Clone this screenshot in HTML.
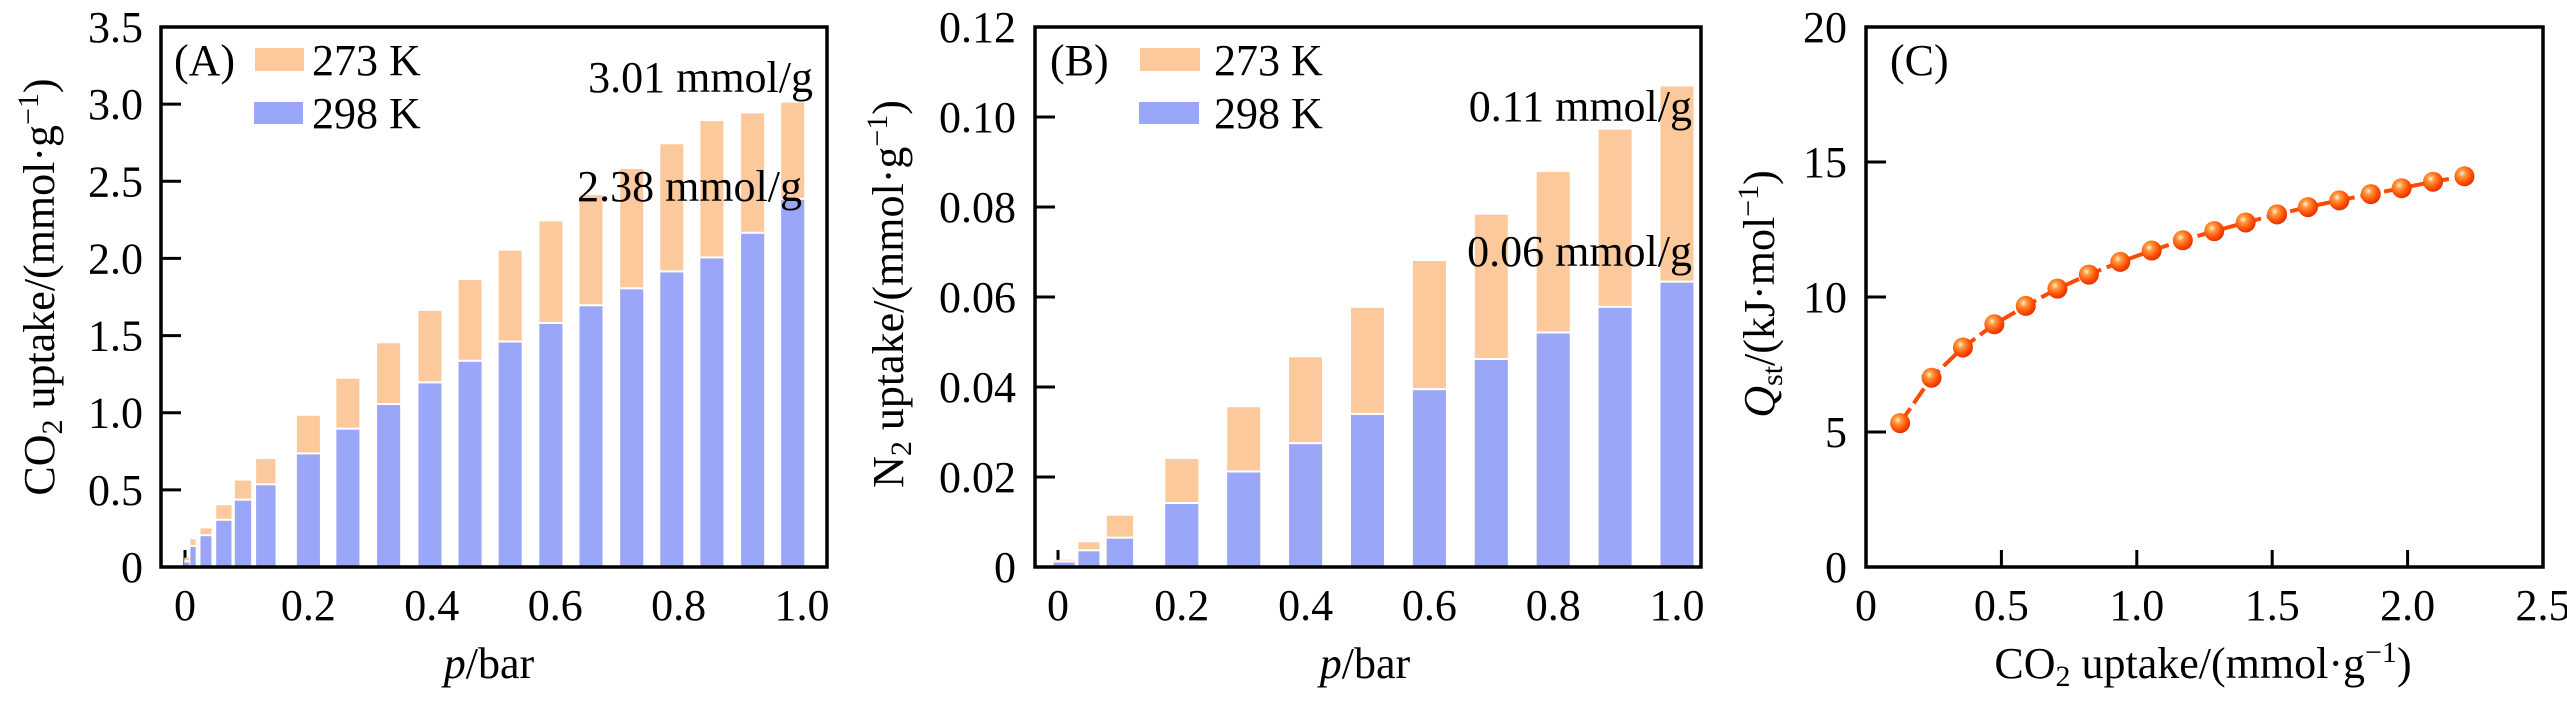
<!DOCTYPE html>
<html><head><meta charset="utf-8"><style>
html,body{margin:0;padding:0;background:#fff;}
svg{display:block;font-family:"Liberation Serif",serif;}
</style></head><body>
<svg id="chart" width="2567" height="709" viewBox="0 0 2567 709" xmlns="http://www.w3.org/2000/svg"></svg>
<script>
// Panel A data (CO2)
const pA = [0.003, 0.013, 0.034, 0.063, 0.094, 0.131, 0.2, 0.264, 0.33, 0.397, 0.462, 0.527, 0.593, 0.658, 0.724, 0.789, 0.854, 0.92, 0.985];
const co2_273 = [0.06, 0.18, 0.25, 0.40, 0.56, 0.70, 0.98, 1.22, 1.45, 1.66, 1.86, 2.05, 2.24, 2.41, 2.58, 2.74, 2.89, 2.94, 3.01];
const co2_298 = [0.03, 0.13, 0.20, 0.30, 0.43, 0.53, 0.73, 0.89, 1.05, 1.19, 1.33, 1.455, 1.575, 1.69, 1.80, 1.91, 2.00, 2.16, 2.38];
const ticksA_y = ["0","0.5","1.0","1.5","2.0","2.5","3.0","3.5"];
const ticksA_x = ["0","0.2","0.4","0.6","0.8","1.0"];
// Panel B data (N2)
const pB = [0.01, 0.05, 0.1, 0.2, 0.3, 0.4, 0.5, 0.6, 0.7, 0.8, 0.9, 1.0];
const n2_273 = [0.0016, 0.0055, 0.0114, 0.024, 0.0355, 0.0466, 0.0576, 0.068, 0.0783, 0.0878, 0.0972, 0.1068];
const n2_298 = [0.001, 0.0035, 0.0063, 0.014, 0.021, 0.0273, 0.0338, 0.0393, 0.046, 0.0519, 0.0576, 0.0632];
const ticksB_y = ["0","0.02","0.04","0.06","0.08","0.10","0.12"];
const ticksB_x = ["0","0.2","0.4","0.6","0.8","1.0"];
// Panel C data (Qst)
const uptakeC = [0.126, 0.242, 0.358, 0.474, 0.59, 0.707, 0.823, 0.939, 1.055, 1.17, 1.286, 1.402, 1.518, 1.632, 1.748, 1.864, 1.978, 2.094, 2.21];
const qst = [5.33, 7.01, 8.13, 8.99, 9.67, 10.31, 10.83, 11.30, 11.72, 12.10, 12.44, 12.76, 13.06, 13.33, 13.58, 13.81, 14.03, 14.27, 14.47];
const ticksC_y = ["0","5","10","15","20"];
const ticksC_x = ["0","0.5","1.0","1.5","2.0","2.5"];

const NS = "http://www.w3.org/2000/svg";
const svg = document.getElementById("chart");
const defs = document.createElementNS(NS, "defs");
defs.innerHTML = '<radialGradient id="ball" cx="0.38" cy="0.35" r="0.7"><stop offset="0" stop-color="#fff3d0"/><stop offset="0.25" stop-color="#ff9a40"/><stop offset="0.7" stop-color="#ff4a00"/><stop offset="1" stop-color="#d83000"/></radialGradient>';
svg.appendChild(defs);
function mk(tag, attrs, parent) {
  const e = document.createElementNS(NS, tag);
  for (const k in attrs) e.setAttribute(k, attrs[k]);
  (parent || svg).appendChild(e);
  return e;
}
const ORANGE = "#fbc99b", BLUE = "#9aa7f8";
const TOP = 27, BOT = 567;

function frame(name, L, R, ymax, yt, xmax, xt, xZeroPx, xOnePx, xTickVal, labelRight, inwardX) {
  const g = mk("g", {});
  
  
  const ys = v => BOT - v / ymax * (BOT - TOP);
  const xs = v => xZeroPx + v / xmax * (xOnePx - xZeroPx);
  yt.forEach((t, i) => {
    const v = ymax * i / (yt.length - 1);
    const y = ys(v);
    if (i > 0 && i < yt.length - 1) mk("line", {x1: L, x2: L + 20, y1: y, y2: y, stroke: "#000", "stroke-width": 3}, g);
    const tx = mk("text", {x: labelRight, y: y + 15, "text-anchor": "end", "font-size": 44}, g);
    tx.textContent = t;
    
    
  });
  xt.forEach((t, i) => {
    const v = xTickVal * i;
    const x = xs(v);
    if (inwardX(i)) mk("line", {x1: x, x2: x, y1: BOT, y2: BOT - 17, stroke: "#000", "stroke-width": 3}, g);
    const tx = mk("text", {x: x, y: 620, "text-anchor": "middle", "font-size": 44}, g);
    tx.textContent = t;
    
    
  });
  return {ys, xs, g};
}
function box(name, L, R) {
  const r = mk("rect", {x: L, y: TOP, width: R - L, height: BOT - TOP, fill: "none", stroke: "#000", "stroke-width": 3.5});
  
  
}
function bars(name, ps, hi, lo, xs, ys, maxW) {
  const g = mk("g", {});
  
  
  ps.forEach((p, i) => {
    const cx = xs(p);
    let gap = 1e9;
    if (i > 0) gap = Math.min(gap, cx - xs(ps[i - 1]));
    if (i < ps.length - 1) gap = Math.min(gap, xs(ps[i + 1]) - cx);
    const w = Math.min(maxW, gap * 0.85);
    const o = mk("rect", {x: cx - w / 2, y: ys(hi[i]), width: w, height: BOT - ys(hi[i]), fill: ORANGE}, g);
    
    
    const b = mk("rect", {x: cx - w / 2, y: ys(lo[i]), width: w, height: BOT - ys(lo[i]), fill: BLUE}, g);
    
    
    mk("line", {x1: cx - w / 2, x2: cx + w / 2, y1: ys(lo[i]) - 1, y2: ys(lo[i]) - 1, stroke: "#fff", "stroke-width": 2}, g);
  });
}
function text(name, x, y, s, size, anchor, extra) {
  const t = mk("text", Object.assign({x: x, y: y, "font-size": size, "text-anchor": anchor || "start"}, extra || {}));
  t.innerHTML = s;
  
  
  return t;
}
function legend(name, tx, sx, sw) {
  const a = mk("rect", {x: sx, y: 48, width: sw, height: 23, fill: ORANGE});
  
  
  const b = mk("rect", {x: sx - 1, y: 102, width: sw, height: 22, fill: BLUE});
  
  
  text(name + '-legend-label-273k', tx, 75, "273 K", 44);
  text(name + '-legend-label-298k', tx, 128, "298 K", 44);
}

// ---- Panel A ----
const A = frame("panel-a", 161, 827, 3.5, ticksA_y, 1.0, ticksA_x, 185, 802, 0.2, 143, i => true);
bars("panel-a", pA, co2_273, co2_298, A.xs, A.ys, 23);
box("panel-a", 161, 827);
text("panel-a-label", 174, 75, "(A)", 44);
legend("panel-a", 312, 255, 49);
text("panel-a-annotation-273k", 813, 92, "3.01 mmol/g", 44, "end");
text("panel-a-annotation-298k", 802, 201, "2.38 mmol/g", 44, "end");
text("panel-a-y-axis-title", 0, 0, 'CO<tspan font-size="30" dy="8">2</tspan><tspan dy="-8"> uptake/(mmol·g</tspan><tspan font-size="30" dy="-16">−1</tspan><tspan dy="16">)</tspan>', 44, "middle", {transform: "translate(54,287) rotate(-90)"});
text("panel-a-x-axis-title", 489, 678, '<tspan font-style="italic">p</tspan>/bar', 44, "middle");

// ---- Panel B ----
const B = frame("panel-b", 1035, 1701, 0.12, ticksB_y, 1.0, ticksB_x, 1058, 1677, 0.2, 1016, i => true);
bars("panel-b", pB, n2_273, n2_298, B.xs, B.ys, 33);
box("panel-b", 1035, 1701);
text("panel-b-label", 1050, 75, "(B)", 44);
legend("panel-b", 1214, 1140, 60);
text("panel-b-annotation-273k", 1692, 121, "0.11 mmol/g", 44, "end");
text("panel-b-annotation-298k", 1692, 266, "0.06 mmol/g", 44, "end");
text("panel-b-y-axis-title", 0, 0, 'N<tspan font-size="30" dy="8">2</tspan><tspan dy="-8"> uptake/(mmol·g</tspan><tspan font-size="30" dy="-16">−1</tspan><tspan dy="16">)</tspan>', 44, "middle", {transform: "translate(903,294) rotate(-90)"});
text("panel-b-x-axis-title", 1365, 678, '<tspan font-style="italic">p</tspan>/bar', 44, "middle");

// ---- Panel C ----
const C = frame("panel-c", 1866, 2543, 20, ticksC_y, 2.5, ticksC_x, 1866, 2543, 0.5, 1847, i => i > 0 && i < 5);
box("panel-c", 1866, 2543);
const path = uptakeC.map((u, i) => (i ? "L" : "M") + C.xs(u).toFixed(1) + "," + C.ys(qst[i]).toFixed(1)).join(" ");
const ln = mk("path", {d: path, fill: "none", stroke: "#ff4a00", "stroke-width": 4, "stroke-dasharray": "18 6"});


uptakeC.forEach((u, i) => {
  const c = mk("circle", {cx: C.xs(u), cy: C.ys(qst[i]), r: 10, fill: "url(#ball)"});
  
  
});
text("panel-c-label", 1890, 75, "(C)", 44);
text("panel-c-y-axis-title", 0, 0, '<tspan font-style="italic">Q</tspan><tspan font-size="30" dy="8">st</tspan><tspan dy="-8">/(kJ·mol</tspan><tspan font-size="30" dy="-16">−1</tspan><tspan dy="16">)</tspan>', 44, "middle", {transform: "translate(1774,294) rotate(-90)"});
text("panel-c-x-axis-title", 2203, 678, 'CO<tspan font-size="30" dy="8">2</tspan><tspan dy="-8"> uptake/(mmol·g</tspan><tspan font-size="30" dy="-16">−1</tspan><tspan dy="16">)</tspan>', 44, "middle");
</script>
</body></html>
